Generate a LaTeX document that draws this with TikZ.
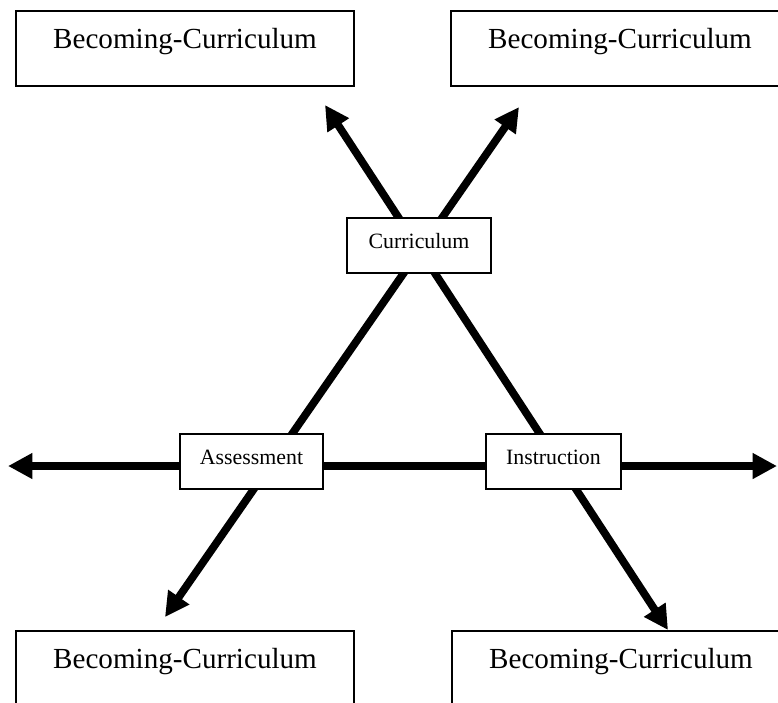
\documentclass[tikz,border=0pt]{standalone}
\usepackage{fontspec}
\setmainfont{Liberation Serif}
\usetikzlibrary{arrows.meta, backgrounds}
\tikzstyle{bigblock} = [draw, fill=white, line width=0.6pt, font=\fontsize{12}{14}\selectfont, inner ysep=0pt, text height=15.2pt, text depth=15.6pt, minimum width=139.3pt]
\tikzstyle{smallblock} = [draw, fill=white, line width=0.6pt, font=\fontsize{9}{11}\selectfont, inner ysep=0pt, text height=12.6pt, text depth=10.1pt]
\tikzstyle{bigarrow} = [line width=3.2pt, {Triangle[length=10pt,width=10pt]}-{Triangle[length=10pt,width=10pt]}]

\begin{document}
\begin{tikzpicture}[x=0.412pt, y=-0.412pt]
      \useasboundingbox (0, 0) rectangle (778, 702);

      \node[bigblock] (becomeNW) at (185, 48.5) {Becoming-Curriculum};
      \node[bigblock] (becomeNE) at (620, 48.5) {Becoming-Curriculum};
      \node[bigblock] (becomeSW) at (185, 668.5) {Becoming-Curriculum};
      \node[bigblock] (becomeSE) at (621, 668.5) {Becoming-Curriculum};

      \node[smallblock, minimum width=59.3pt] (curriculum) at (419, 245.5) {Curriculum};
      \node[smallblock, minimum width=58.9pt] (assessment) at (251.5, 461.5) {Assessment};
      \node[smallblock, minimum width=55.6pt] (instruction) at (553.5, 461.5) {Instruction};

      \coordinate (tipNW) at (325, 105);
      \coordinate (tipNE) at (519, 107);
      \coordinate (tipSW) at (165, 617);
      \coordinate (tipSE) at (668, 630);
      \coordinate (tipW) at (8, 466);
      \coordinate (tipE) at (777, 466);

      \begin{scope}[on background layer]
      \draw[bigarrow] (tipNW) -- (tipSE);
      \draw[bigarrow] (tipNE) -- (tipSW);
      \draw[bigarrow] (tipW) -- (tipE);
      \end{scope}
    \end{tikzpicture}
\end{document}
